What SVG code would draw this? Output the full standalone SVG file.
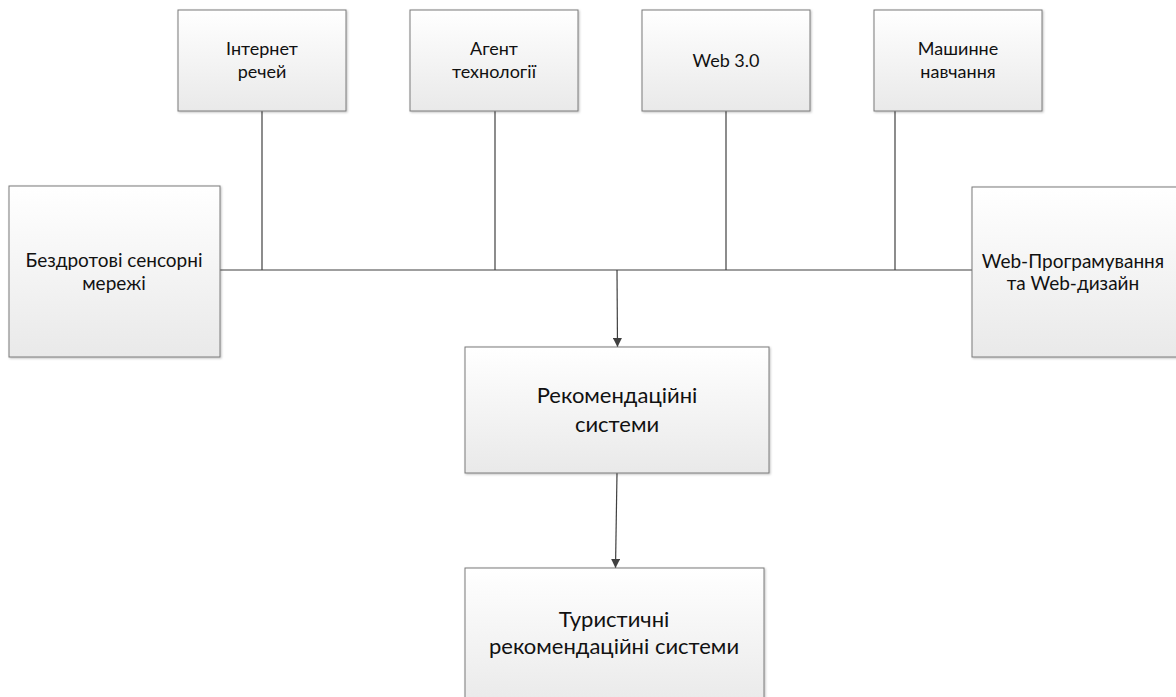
<svg xmlns="http://www.w3.org/2000/svg" width="1176" height="697" viewBox="0 0 1176 697">
  <defs>
    <linearGradient id="boxFill" x1="0" y1="0" x2="0" y2="1">
      <stop offset="0" stop-color="#ffffff"/>
      <stop offset="1" stop-color="#e9e9e9"/>
    </linearGradient>
    <filter id="shadow" x="-5%" y="-5%" width="110%" height="110%">
      <feDropShadow dx="1" dy="1" stdDeviation="1" flood-color="#000" flood-opacity="0.25"/>
    </filter>
    <marker id="arrow" viewBox="0 0 10 10" refX="10" refY="5" markerWidth="9" markerHeight="9" markerUnits="userSpaceOnUse" orient="auto">
      <path d="M0,0 L10,5 L0,10 z" fill="#404040"/>
    </marker>
  </defs>
  <style>
    .box { fill: url(#boxFill); stroke: #7a7a7a; stroke-width: 1; filter: url(#shadow); }
    .lbl { font-family: Lato, "Liberation Sans", sans-serif; fill: #111; text-anchor: middle; }
    .s { font-size: 18px; }
    .m { font-size: 19px; }
    .l { font-size: 22px; }
    .wire { stroke: #404040; stroke-width: 1.2; fill: none; }
  </style>
  <rect width="1176" height="697" fill="#ffffff"/>

  <g id="connectors">
    <line class="wire" x1="220" y1="270" x2="972" y2="270"/>
    <line class="wire" x1="262" y1="111" x2="262" y2="270"/>
    <line class="wire" x1="495" y1="111" x2="495" y2="270"/>
    <line class="wire" x1="726" y1="111" x2="726" y2="270"/>
    <line class="wire" x1="895" y1="111" x2="895" y2="270"/>
    <line class="wire" x1="617" y1="270" x2="617.5" y2="347" marker-end="url(#arrow)"/>
    <line class="wire" x1="617" y1="473" x2="615.5" y2="568" marker-end="url(#arrow)"/>
  </g>

  <g id="iot">
    <rect class="box" x="178" y="10" width="168" height="101"/>
    <text class="lbl s" x="262" y="55">Інтернет</text>
    <text class="lbl s" x="262" y="78">речей</text>
  </g>
  <g id="agents">
    <rect class="box" x="410" y="10" width="168" height="101"/>
    <text class="lbl s" x="494" y="55">Агент</text>
    <text class="lbl s" x="494" y="78">технології</text>
  </g>
  <g id="web3">
    <rect class="box" x="642" y="10" width="168" height="101"/>
    <text class="lbl s" x="726" y="67">Web 3.0</text>
  </g>
  <g id="ml">
    <rect class="box" x="874" y="10" width="168" height="101"/>
    <text class="lbl s" x="958" y="55">Машинне</text>
    <text class="lbl s" x="958" y="78">навчання</text>
  </g>
  <g id="wsn">
    <rect class="box" x="9" y="186" width="211" height="171"/>
    <text class="lbl m" x="114" y="267">Бездротові сенсорні</text>
    <text class="lbl m" x="114" y="290">мережі</text>
  </g>
  <g id="webdev">
    <rect class="box" x="972" y="187" width="212" height="170"/>
    <text class="lbl m" x="1073" y="268">Web-Програмування</text>
    <text class="lbl m" x="1073" y="290">та Web-дизайн</text>
  </g>
  <g id="recsys">
    <rect class="box" x="465" y="347" width="304" height="126"/>
    <text class="lbl l" x="617" y="403">Рекомендаційні</text>
    <text class="lbl l" x="617" y="432">системи</text>
  </g>
  <g id="tourism">
    <rect class="box" x="465" y="568" width="299" height="140"/>
    <text class="lbl l" x="614" y="627">Туристичні</text>
    <text class="lbl l" x="614" y="654">рекомендаційні системи</text>
  </g>
</svg>
